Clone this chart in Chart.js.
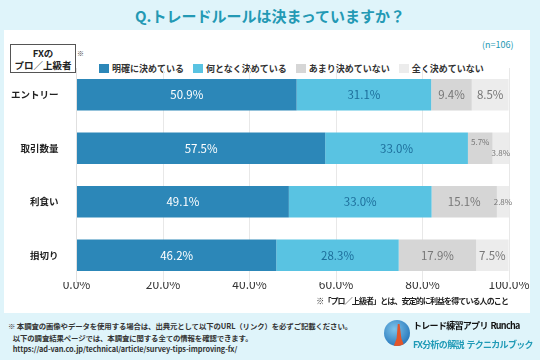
<!DOCTYPE html>
<html lang="ja">
<head>
<meta charset="utf-8">
<script src="https://cdn.jsdelivr.net/npm/chart.js@4"></script>
<style>
  html, body { margin: 0; padding: 0; }
  body {
    width: 540px; height: 360px; position: relative; overflow: hidden;
    background: #dff4fa;
    font-family: "Noto Sans CJK JP", "Noto Sans", sans-serif;
  }
  .abs { position: absolute; white-space: nowrap; }
  #title { left: 0; width: 540px; top: 5px; text-align: center; font-size: 15px; font-weight: bold; color: #2399b4; }
  #panel { left: 4px; top: 30px; width: 526px; height: 283px; background: #fff; }
  #chartBox { left: 0; top: 0; width: 540px; height: 300px; }
  #badge { left: 10px; top: 44px; width: 66px; height: 29px; border: 1px solid #555; background: #fff;
    font-size: 9.5px; font-weight: bold; line-height: 12px; text-align: center; color: #222; padding-top: 2px; box-sizing: border-box; }
  #badgeMark { left: 77px; top: 48px; font-size: 7px; color: #444; }
  #n { left: 482px; top: 38px; font-size: 9px; color: #2399b4; }
  #legend { left: 99px; top: 61px; height: 14px; display: flex; align-items: center; font-size: 9px; font-weight: bold; color: #333; }
  #legend span.box { display: inline-block; width: 10px; height: 9px; margin-right: 3px; }
  #legend span.item { display: flex; align-items: center; margin-right: 9px; }
  #note { right: 32px; top: 295px; font-size: 8px; letter-spacing: -0.9px; font-weight: bold; color: #222; }
  #foot { left: 8px; top: 320px; font-size: 7.4px; letter-spacing: -0.1px; font-weight: bold; color: #333; line-height: 11.5px; }
  #logo { left: 384px; top: 320px; width: 26px; height: 26px; border-radius: 50%;
    background: radial-gradient(circle at 40% 35%, #7ec3ea, #2f7fc0 70%, #1f5f9c); overflow: hidden; }
  #logo div { position: absolute; left: 9px; top: 4px; width: 12px; height: 24px; background: #e2552a;
    clip-path: polygon(40% 0, 55% 0, 70% 60%, 100% 100%, 0 100%, 30% 60%); }
  #app1 { left: 413px; top: 319px; font-size: 9px; letter-spacing: -0.7px; font-weight: bold; color: #111; }
  #app2 { left: 413px; top: 338px; font-size: 9px; letter-spacing: -0.7px; font-weight: bold; color: #1f9ab6; }
</style>
</head>
<body>
<div id="panel" class="abs"></div>
<div id="title" class="abs">Q.トレードルールは決まっていますか？</div>
<div id="badge" class="abs">FXの<br>プロ／上級者</div>
<div id="badgeMark" class="abs">※</div>
<div id="n" class="abs">(n=106)</div>
<div id="legend" class="abs"></div>
<div id="chartBox" class="abs"><canvas id="chart" width="540" height="300"></canvas></div>
<div id="note" class="abs">※「プロ／上級者」とは、安定的に利益を得ている人のこと</div>
<div id="foot" class="abs">※ 本調査の画像やデータを使用する場合は、出典元として以下のURL（リンク）を必ずご記載ください。<br>
&nbsp;&nbsp;&nbsp;以下の調査結果ページでは、本調査に関する全ての情報を確認できます。<br>
&nbsp;&nbsp;&nbsp;https://ad-van.co.jp/technical/article/survey-tips-improving-fx/</div>
<div id="logo" class="abs"><div></div></div>
<div id="app1" class="abs">トレード練習アプリ&nbsp; Runcha</div>
<div id="app2" class="abs">FX分析の解説&nbsp; テクニカルブック</div>

<script>
var categories = ['エントリー', '取引数量', '利食い', '損切り'];
var seriesNames = ['明確に決めている', '何となく決めている', 'あまり決めていない', '全く決めていない'];
var clearly = [50.9, 57.5, 49.1, 46.2];
var somewhat = [31.1, 33.0, 33.0, 28.3];
var notReally = [9.4, 5.7, 15.1, 17.9];
var notAtAll = [8.5, 3.8, 2.8, 7.5];
var xTicks = [0, 20, 40, 60, 80, 100];

var seriesValues = [clearly, somewhat, notReally, notAtAll];
var colors = ['#2c87b8', '#59c3e2', '#d6d6d6', '#ececec'];
var labelColors = ['#ffffff', '#1d6e9b', '#777777', '#777777'];

// legend (html)
var legend = document.getElementById('legend');
seriesNames.forEach(function(name, i) {
    var item = document.createElement('span');
    item.className = 'item';
    item.innerHTML = '<span class="box" style="background:' + colors[i] + '"></span>' + name;
    legend.appendChild(item);
});

var valueLabels = {
    id: 'valueLabels',
    afterDatasetsDraw: function(chart) {
        var ctx = chart.ctx;
        ctx.save();
        ctx.textAlign = 'center';
        ctx.textBaseline = 'middle';
        chart.data.datasets.forEach(function(ds, i) {
            chart.getDatasetMeta(i).data.forEach(function(bar, j) {
                var v = ds.data[j];
                var p = bar.getProps(['x', 'y', 'base'], true);
                var small = v < 6;
                var dy = 0;
                if (small) {
                    var next = chart.data.datasets[i + 1];
                    var prev = chart.data.datasets[i - 1];
                    if (next && next.data[j] < 6) dy = -6;
                    else if (prev && prev.data[j] < 6) dy = 5;
                }
                ctx.fillStyle = labelColors[i];
                ctx.font = (small ? '8px' : '11.5px') + ' "Noto Sans CJK JP", sans-serif';
                ctx.fillText(v.toFixed(1) + '%', (p.x + p.base) / 2, p.y + dy);
            });
        });
        ctx.restore();
    }
};

var ctx = document.getElementById('chart').getContext('2d');
var chart = new Chart(ctx, {
    type: 'bar',
    data: {
        labels: categories,
        datasets: seriesValues.map(function(vals, i) {
            return {
                label: seriesNames[i],
                data: vals,
                backgroundColor: colors[i],
                borderWidth: 0,
                categoryPercentage: 1,
                barPercentage: 0.59
            };
        })
    },
    options: {
        indexAxis: 'y',
        responsive: false,
        animation: false,
        layout: { padding: { top: 68, right: 31, left: 0, bottom: 0 } },
        plugins: {
            legend: { display: false },
            tooltip: { enabled: false }
        },
        scales: {
            x: {
                stacked: true,
                min: 0,
                max: 100,
                afterBuildTicks: function(scale) {
                    scale.ticks = xTicks.map(function(v) { return { value: v }; });
                },
                afterFit: function(scale) { scale.height = 18; },
                grid: { color: '#e8e8e8', drawTicks: false },
                border: { display: false },
                ticks: {
                    padding: -5,
                    color: '#333',
                    font: { size: 12, family: '"Noto Sans CJK JP", sans-serif' },
                    callback: function(v) { return v.toFixed(1) + '%'; }
                }
            },
            y: {
                stacked: true,
                afterFit: function(scale) { scale.width = 76.5; },
                grid: { display: false },
                border: { color: '#e0e0e0' },
                ticks: {
                    padding: 10,
                    color: '#222',
                    font: { size: 9.5, weight: 'bold', family: '"Noto Sans CJK JP", sans-serif' }
                }
            }
        }
    },
    plugins: [valueLabels]
});
</script>
</body>
</html>
